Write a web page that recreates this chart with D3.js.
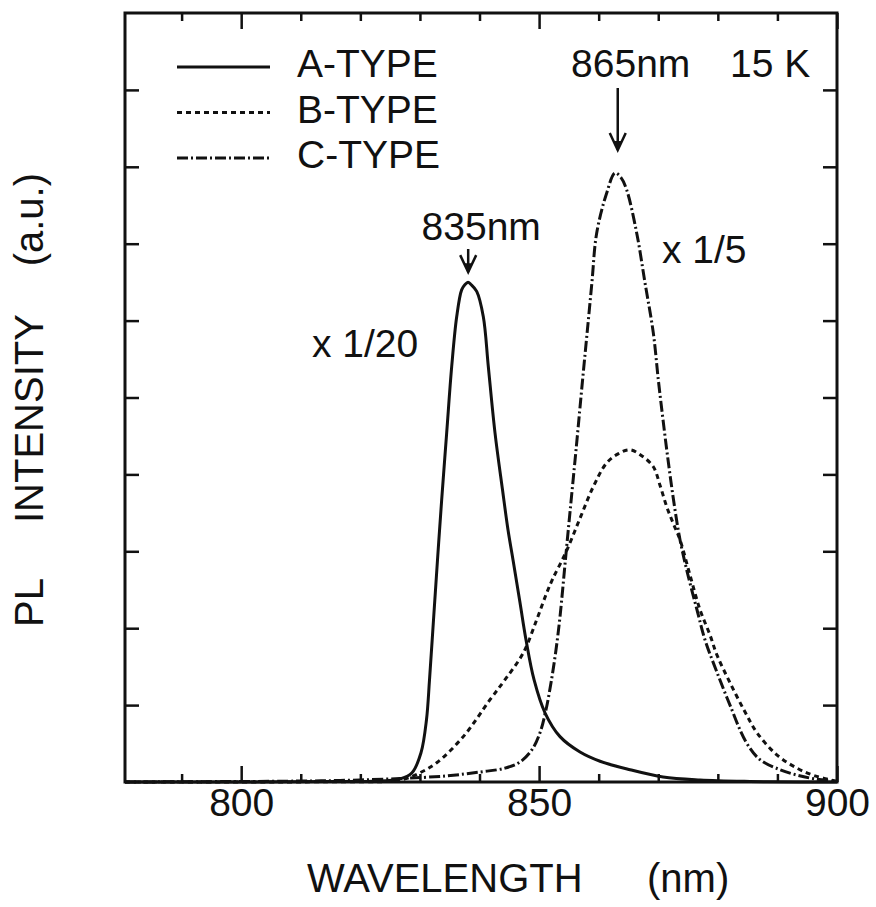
<!DOCTYPE html>
<html><head><meta charset="utf-8">
<script src="https://cdn.jsdelivr.net/npm/d3@7"></script>
<style>
html,body{margin:0;padding:0;background:#fff;}
svg{display:block;}
text{font-family:"Liberation Sans",Arial,Helvetica,sans-serif;fill:#111;}
</style></head>
<body>
<svg id="chart" width="876" height="907"></svg>
<script>
// ---- data ----
const xMajorTicks = [800, 850, 900];
const xMinorTicks = [790, 810, 820, 830, 840, 860, 870, 880, 890];
const yTicks = [1, 2, 3, 4, 5, 6, 7, 8, 9];

const seriesNames = ["A-TYPE", "B-TYPE", "C-TYPE"];

const aWave = [780.5, 800, 815, 822, 826.66, 828.67, 830.18, 831.1, 831.61, 832.28, 832.95, 833.65, 834.49, 835.33, 836.17, 837.0, 837.57, 838.07, 838.57, 839.53, 840.64, 841.48, 842.6, 843.86, 844.78, 845.62, 846.8, 847.8, 849.15, 850.99, 853.51, 856.87, 860.23, 865.26, 870.8, 877.01, 885.4, 893.8, 900];
const aVal  = [0, 0, 0.005, 0.01, 0.04, 0.12, 0.38, 0.81, 1.33, 2.11, 2.89, 3.67, 4.54, 5.4, 6.05, 6.4, 6.47, 6.5, 6.47, 6.38, 6.05, 5.4, 4.54, 3.8, 3.28, 2.89, 2.33, 1.85, 1.33, 0.9, 0.59, 0.39, 0.27, 0.16, 0.065, 0.026, 0.007, 0, 0];

const bWave = [780.5, 800, 815, 825.0, 827.5, 830.01, 832.82, 837.28, 841.76, 844.28, 847.35, 849.6, 851.28, 852.34, 854.52, 856.87, 859.1, 861.35, 863.34, 865.26, 867.27, 869.17, 870.29, 871.42, 872.48, 873.65, 875.33, 877.01, 878.69, 879.86, 882.05, 884.57, 886.58, 889.94, 893.29, 896.31, 900];
const bVal  = [0, 0, 0.003, 0.01, 0.04, 0.12, 0.25, 0.59, 1.07, 1.33, 1.68, 2.11, 2.46, 2.65, 2.99, 3.43, 3.84, 4.15, 4.27, 4.32, 4.24, 4.1, 3.86, 3.58, 3.37, 3.15, 2.69, 2.24, 1.91, 1.65, 1.29, 0.91, 0.64, 0.35, 0.18, 0.08, 0.01];

const cWave = [780.5, 806.5, 816.6, 826.66, 834.54, 840.08, 844.28, 846.8, 848.81, 850.15, 851.16, 852.0, 852.84, 853.51, 854.42, 854.9, 856.25, 857.3, 858.06, 858.86, 859.67, 861.35, 862.74, 863.75, 864.7, 866.38, 867.78, 869.17, 870.01, 870.8, 871.64, 872.56, 873.65, 874.99, 876.5, 877.84, 879.69, 882.04, 884.73, 887.08, 890.44, 893.29, 896.31, 900];
const cVal  = [0, 0.01, 0.02, 0.045, 0.08, 0.13, 0.18, 0.26, 0.42, 0.64, 0.94, 1.29, 1.72, 2.15, 2.89, 3.28, 4.36, 5.23, 5.84, 6.49, 7.14, 7.66, 7.92, 7.86, 7.7, 7.14, 6.49, 5.84, 5.23, 4.71, 4.19, 3.67, 3.15, 2.69, 2.24, 1.85, 1.46, 1.0, 0.52, 0.29, 0.16, 0.09, 0.04, 0.01];

const annotations = [
  {text: "835nm", wave: 838.1, val: 6.5},
  {text: "865nm", wave: 863.2, val: 7.92}
];

// ---- layout ----
const L = 125, R = 837, T = 13, B = 782;
const svg = d3.select("#chart");
const x = d3.scaleLinear().domain([780.5, 900]).range([L, R]);
const y = d3.scaleLinear().domain([0, 10]).range([B, T]);
const FS = 39;

// frame
svg.append("rect").attr("x", L).attr("y", T).attr("width", R - L).attr("height", B - T)
  .attr("fill", "none").attr("stroke", "#111").attr("stroke-width", 3);

function styleAxis(g) {
  g.select(".domain").remove();
  g.selectAll(".tick line").attr("stroke", "#111").attr("stroke-width", 2.5);
}
// bottom axis (inward ticks)
svg.append("g").attr("transform", `translate(0,${B})`)
  .call(d3.axisBottom(x).tickValues(xMajorTicks).tickSize(-16).tickFormat(d3.format("d")))
  .call(styleAxis)
  .call(g => g.selectAll(".tick text").attr("y", 34).attr("dy", null)
    .style("font-size", FS + "px").style("font-family", "Liberation Sans, Arial, sans-serif").attr("fill", "#111"));
svg.append("g").attr("transform", `translate(0,${B})`)
  .call(d3.axisBottom(x).tickValues(xMinorTicks).tickSize(-8).tickFormat(""))
  .call(styleAxis);
// top axis
svg.append("g").attr("transform", `translate(0,${T})`)
  .call(d3.axisTop(x).tickValues(xMajorTicks).tickSize(-16).tickFormat(""))
  .call(styleAxis);
svg.append("g").attr("transform", `translate(0,${T})`)
  .call(d3.axisTop(x).tickValues(xMinorTicks).tickSize(-8).tickFormat(""))
  .call(styleAxis);
// left / right axes
svg.append("g").attr("transform", `translate(${L},0)`)
  .call(d3.axisLeft(y).tickValues(yTicks).tickSize(-14).tickFormat(""))
  .call(styleAxis);
svg.append("g").attr("transform", `translate(${R},0)`)
  .call(d3.axisRight(y).tickValues(yTicks).tickSize(-14).tickFormat(""))
  .call(styleAxis);

// curves
const line = d3.line().x(d => x(d[0])).y(d => y(d[1])).curve(d3.curveCatmullRom.alpha(0.5));
const styles = [
  {dash: null},
  {dash: "5,4"},
  {dash: "11,3,2,3"}
];
const seriesData = [
  d3.zip(aWave, aVal),
  d3.zip(bWave, bVal),
  d3.zip(cWave, cVal)
];
seriesData.forEach((d, i) => {
  svg.append("path").datum(d).attr("d", line)
    .attr("fill", "none").attr("stroke", "#111").attr("stroke-width", 3)
    .attr("stroke-linejoin", "round")
    .attr("stroke-dasharray", styles[i].dash);
});

// legend
const leg = svg.append("g");
seriesNames.forEach((n, i) => {
  const yy = 67 + i * 45.5;
  leg.append("line").attr("x1", 177).attr("x2", 270).attr("y1", yy).attr("y2", yy)
    .attr("stroke", "#111").attr("stroke-width", 3).attr("stroke-dasharray", styles[i].dash);
  leg.append("text").attr("x", 297).attr("y", yy + 10).style("font-size", FS + "px").text(n);
});

// annotations
function arrow(px, y0, y1) {
  svg.append("line").attr("x1", px).attr("x2", px).attr("y1", y0).attr("y2", y1)
    .attr("stroke", "#111").attr("stroke-width", 2.5);
  svg.append("path").attr("d", `M${px - 8},${y1 - 17} L${px},${y1} L${px + 8},${y1 - 17}`)
    .attr("fill", "none").attr("stroke", "#111").attr("stroke-width", 2.5);
  svg.append("path").attr("d", `M${px - 4},${y1 - 9} L${px},${y1} L${px + 4},${y1 - 9} Z`)
    .attr("fill", "#111");
}
// 835nm
{
  const a = annotations[0];
  const px = x(a.wave);
  svg.append("text").attr("x", px + 13).attr("y", 240).attr("text-anchor", "middle")
    .style("font-size", FS + "px").text(a.text);
  arrow(px, 249, y(a.val) - 10);
}
// 865nm
{
  const a = annotations[1];
  const px = x(a.wave);
  svg.append("text").attr("x", px + 13).attr("y", 77).attr("text-anchor", "middle")
    .style("font-size", FS + "px").text(a.text);
  arrow(px, 88, 150);
}
svg.append("text").attr("x", 730).attr("y", 77).style("font-size", FS + "px").text("15 K");
svg.append("text").attr("x", 312).attr("y", 357).style("font-size", FS + "px").text("x 1/20");
svg.append("text").attr("x", 662).attr("y", 263).style("font-size", FS + "px").text("x 1/5");

// axis titles
svg.append("text").attr("x", 307).attr("y", 892).style("font-size", "40px").text("WAVELENGTH");
svg.append("text").attr("x", 647).attr("y", 892).style("font-size", "40px").text("(nm)");
const yl = svg.append("g").attr("transform", "translate(43,0)");
yl.append("text").attr("transform", "translate(0,627) rotate(-90)").style("font-size", "40px").text("PL");
yl.append("text").attr("transform", "translate(0,523) rotate(-90)").style("font-size", "40px").text("INTENSITY");
yl.append("text").attr("transform", "translate(0,173) rotate(-90)").attr("text-anchor", "end").style("font-size", "40px").text("(a.u.)");
</script>
</body></html>
